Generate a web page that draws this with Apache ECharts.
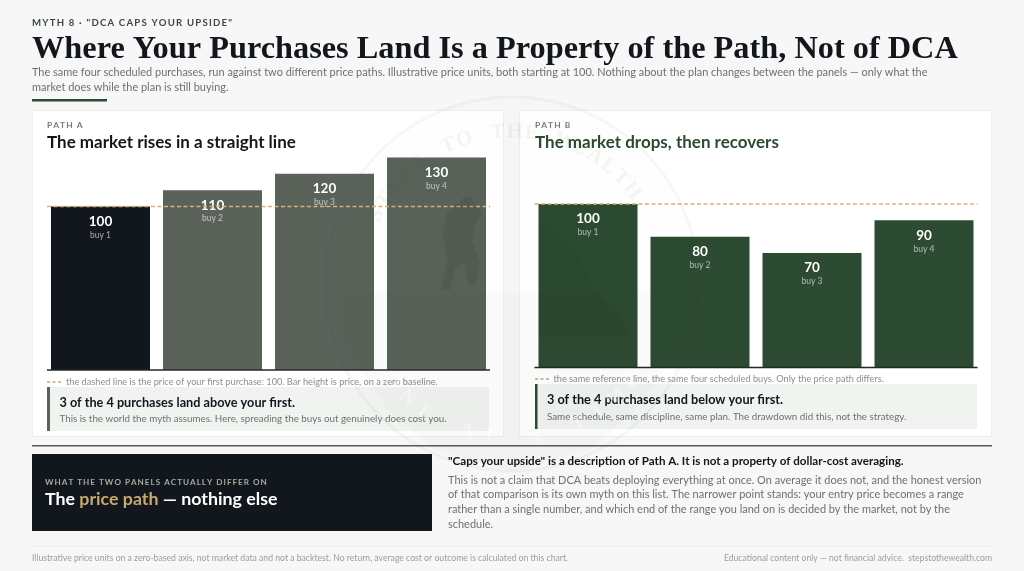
<!DOCTYPE html>
<html><head><meta charset="utf-8">
<style>html,body{margin:0;padding:0;background:#f7f7f7}#c{width:1024px;height:571px}</style>
<script src="https://cdn.jsdelivr.net/npm/echarts@6/dist/echarts.min.js"></script>
</head><body><div id="c"></div>
<script>
const categories = ['buy 1','buy 2','buy 3','buy 4'];
const pathA = [100,110,120,130];
const pathB = [100,80,70,90];
const firstPrice = 100;
const INK='#12161d', GREEN='#2d4a32', SLATE='#5a625a', GOLD='#d4b27a';
const SANS='Lato', SERIF='"Liberation Serif"';
const chart = echarts.init(document.getElementById('c'),null,{renderer:'canvas',width:1024,height:571});
const track = s => s.split('').join('\u2009');
function T(x,y,text,size,color,weight,extra){
  return Object.assign({type:'text',x,y,z:5,style:Object.assign({text,fontFamily:SANS,fontSize:size,fill:color,fontWeight:weight||400,textVerticalAlign:'middle',textAlign:'left'},extra||{})});
}
function R(x,y,w,h,fill,stroke){return {type:'rect',z:1,shape:{x,y,width:w,height:h},style:{fill,stroke:stroke||null,lineWidth:stroke?1:0}};}
function L(x1,y1,x2,y2,stroke,w,dash){return {type:'line',z:5,shape:{x1,y1,x2,y2},style:{stroke,lineWidth:w,lineDash:dash||null}};}

const graphics=[
  T(32,23,track('MYTH 8 · "DCA CAPS YOUR UPSIDE"'),9.6,'#3c4a3e',700),
  T(32,49.5,'Where Your Purchases Land Is a Property of the Path, Not of DCA',32.35,INK,700,{fontFamily:SERIF}),
  T(32,72.5,'The same four scheduled purchases, run against two different price paths. Illustrative price units, both starting at 100. Nothing about the plan changes between the panels — only what the',10.96,'#6c726c'),
  T(32,87,'market does while the plan is still buying.',10.96,'#6c726c'),
  R(32,99,75,2.5,GREEN),
  R(32.5,110.5,471,326,'#ffffff','#eeeeee'),
  R(519.5,110.5,472,326,'#ffffff','#eeeeee'),
  T(47,125,track('PATH A'),8.4,'#777c77',700),
  T(47,142.5,'The market rises in a straight line',17,INK,700),
  T(535,125,track('PATH B'),8.4,'#777c77',700),
  T(535,142.5,'The market drops, then recovers',17,GREEN,700),
  L(47,382,61,382,'#c8a96e',1.5,[3,2.5]),
  T(66,382,'the dashed line is the price of your first purchase: 100. Bar height is price, on a zero baseline.',9.2,'#8b8f8b'),
  R(47,387,442,44,'#f1f3f1'),R(47,387,3,44,SLATE),
  T(59.5,402.5,'3 of the 4 purchases land above your first.',12.7,INK,700),
  T(59.5,418.5,'This is the world the myth assumes. Here, spreading the buys out genuinely does cost you.',9.8,'#6c726c'),
  L(535,379,549,379,'#c8a96e',1.5,[3,2.5]),
  T(553.5,379,'the same reference line, the same four scheduled buys. Only the price path differs.',9.2,'#8b8f8b'),
  R(535,384,442,45,'#f1f3f1'),R(535,384,2.5,45,GREEN),
  T(547,399.5,'3 of the 4 purchases land below your first.',12.7,INK,700),
  T(547,416.5,'Same schedule, same discipline, same plan. The drawdown did this, not the strategy.',9.8,'#6c726c'),
  L(32,445.8,992,445.8,'#555a55',1.5),
  R(32,454,400,77,INK),
  T(45,482,track('WHAT THE TWO PANELS ACTUALLY DIFFER ON'),8.1,'#a4ac9e',700),
  T(45,499.5,'{w|The }{g|price path}{w| — nothing else}',17.8,'#fff',700,{rich:{w:{fontFamily:SANS,fontSize:17.8,fontWeight:700,fill:'#fff'},g:{fontFamily:SANS,fontSize:17.8,fontWeight:700,fill:'#c8a96e'}}}),
  T(448,461.5,'"Caps your upside" is a description of Path A. It is not a property of dollar-cost averaging.',11.6,INK,700),
  T(448,480,'This is not a claim that DCA beats deploying everything at once. On average it does not, and the honest version',10.97,'#6c726c'),
  T(448,494.5,'of that comparison is its own myth on this list. The narrower point stands: your entry price becomes a range',10.97,'#6c726c'),
  T(448,509,'rather than a single number, and which end of the range you land on is decided by the market, not by the',10.97,'#6c726c'),
  T(448,524,'schedule.',10.97,'#6c726c'),
  L(32,546.5,992,546.5,'#ececec',1),
  T(32,558,'Illustrative price units on a zero-based axis, not market data and not a backtest. No return, average cost or outcome is calculated on this chart.',8.67,'#9a9e9a'),
  T(992,558,'Educational content only — not financial advice.  stepstothewealth.com',8.65,'#9a9e9a',400,{textAlign:'right'})
];

// faint seal watermark laid over the whole page
const WX=512,WY=284;
graphics.push({type:'circle',z:20,silent:true,shape:{cx:WX,cy:WY,r:187},style:{fill:'rgba(60,70,60,0.008)',stroke:'rgba(60,70,60,0.045)',lineWidth:3}});
graphics.push({type:'polygon',z:20,silent:true,shape:{points:[[339,293],[685,293],[676,350],[640,405],[590,450],[512,471],[434,450],[384,405],[348,350]]},style:{fill:'rgba(60,70,60,0.018)'}});
graphics.push({type:'polygon',z:20,silent:true,shape:{points:[[440,290],[448,262],[443,235],[447,212],[458,204],[464,197],[472,197],[474,205],[483,213],[475,224],[472,240],[480,262],[476,285],[468,285],[464,262],[455,268],[450,290]]},style:{fill:'rgba(0,0,0,0.08)'}});
graphics.push({type:'polygon',z:20,silent:true,shape:{points:[[539,223],[577,250],[593,287],[617,310],[632,337],[539,337]]},style:{fill:'rgba(0,0,0,0.03)'}});
function arcText(str,startDeg,stepDeg,r,fill,bottom){
  str.split('').forEach((ch,i)=>{
    if(ch===' ')return;
    const a=(startDeg+i*stepDeg)*Math.PI/180;
    graphics.push({type:'text',z:20,silent:true,x:WX+r*Math.cos(a),y:WY+r*Math.sin(a),rotation:bottom?-(a-Math.PI/2):-(a+Math.PI/2),
      style:{text:ch,fontFamily:SERIF,fontWeight:700,fontSize:21,fill,textAlign:'center',textVerticalAlign:'middle'}});
  });
}
arcText('STEPS TO THE WEALTH',-153,6.4,152,'rgba(40,50,40,0.05)',false);
arcText('ONE AT A TIME',141,-8.5,155,'rgba(255,255,255,0.4)',true);

function bars(values,grid,first,color){
  return {type:'bar',name:'price',xAxisIndex:grid,yAxisIndex:grid,barWidth:99,z:2,
    data:values.map((v,i)=>({value:v,itemStyle:{color:(first&&i===0)?INK:color}})),
    label:{show:true,position:'insideTop',distance:7,align:'center',
      formatter:p=>`{v|${p.value}}\n{b|${categories[p.dataIndex]}}`,
      rich:{v:{fontFamily:SANS,fontSize:13.5,fontWeight:700,color:'#fff',lineHeight:16},b:{fontFamily:SANS,fontSize:8.5,color:'rgba(255,255,255,0.62)',lineHeight:11}}}};
}
function rule(grid,y,color,width,dash){
  return {type:'line',xAxisIndex:grid+2,yAxisIndex:grid,symbol:'none',clip:false,silent:true,z:4,
    data:[[0.022,y],[3.978,y]],lineStyle:{color,width,type:dash}};
}
const catAxis=g=>({type:'category',gridIndex:g,data:categories,show:false});
const posAxis=g=>({type:'value',gridIndex:g,min:0,max:4,show:false});
chart.setOption({
  animation:false,backgroundColor:'#f7f7f7',
  grid:[{left:44.5,width:448,top:157.5,height:212.5},{left:532,width:448,top:204,height:163.5}],
  xAxis:[catAxis(0),catAxis(1),posAxis(0),posAxis(1)],
  yAxis:[{type:'value',gridIndex:0,min:0,max:130,show:false},{type:'value',gridIndex:1,min:0,max:100,show:false}],
  series:[bars(pathA,0,true,SLATE),bars(pathB,1,false,GREEN),
    rule(0,firstPrice,GOLD,1.4,[4,2.5]),rule(1,firstPrice,GOLD,1.4,[4,2.5]),
    rule(0,0,'#23282a',1.5,'solid'),rule(1,0,'#23282a',1.5,'solid')],
  graphic:{elements:graphics}
});
</script></body></html>
